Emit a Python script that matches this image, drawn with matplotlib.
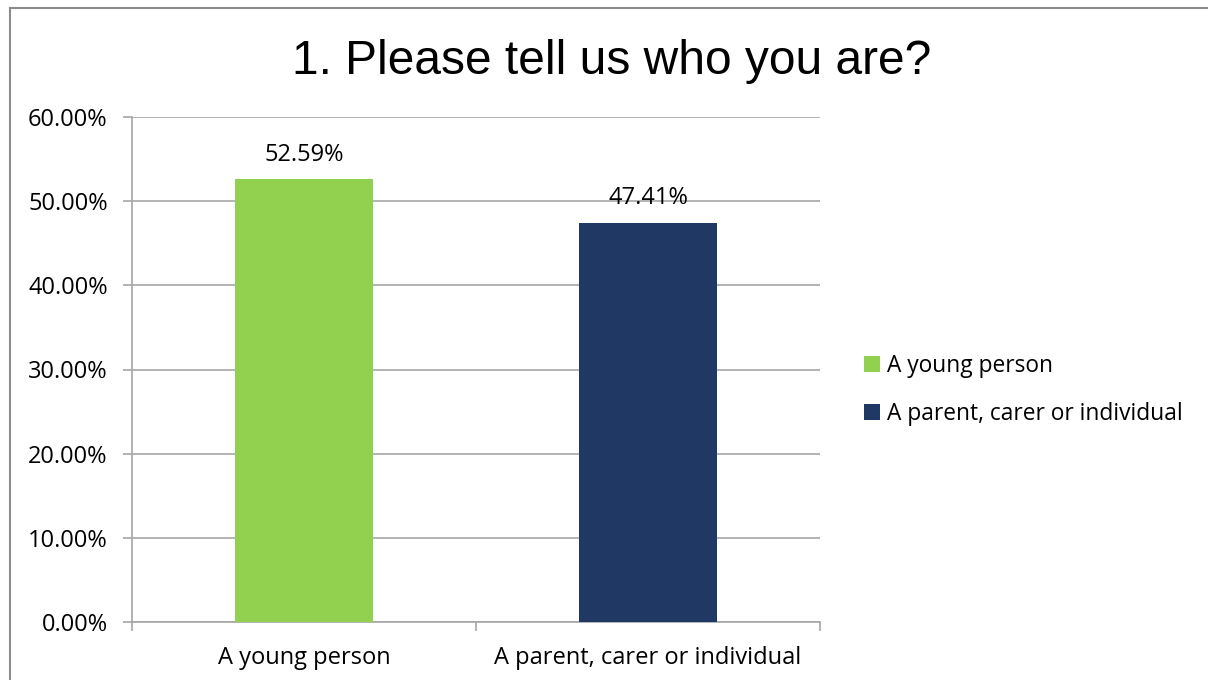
import matplotlib.pyplot as plt
from matplotlib.lines import Line2D
from matplotlib.patches import Patch

categories = ['A young person', 'A parent, carer or individual']
shares = [52.59, 47.41]
colors = ['#92d050', '#1f3864']
yticks = [0, 10, 20, 30, 40, 50, 60]

plt.rcParams['font.family'] = ['Open Sans', 'DejaVu Sans']

fig = plt.figure(figsize=(12.08, 6.8), dpi=100)
ax = fig.add_axes([132 / 1208, 1 - 622 / 680, 688 / 1208, 505 / 680])

x = range(len(categories))
ax.bar(x, shares, width=0.4, color=colors, zorder=3)
for xi, v in zip(x, shares):
    ax.annotate('%.2f%%' % v, (xi, v), xytext=(0, 9), textcoords='offset points',
                ha='center', va='bottom', fontsize=17, color='black')

ax.set_xlim(-0.5, 1.5)
ax.set_ylim(0, 60)
ax.set_yticks(yticks)
ax.set_yticklabels(['%.2f%%' % t for t in yticks])
ax.set_xticks(list(x))
ax.set_xticklabels(categories)
ax.set_xticks([-0.5, 0.5, 1.5], minor=True)

grid_c = '#a6a6a6'
ax.yaxis.grid(True, color=grid_c, linewidth=1.2, zorder=0)
for side in ['top', 'right']:
    ax.spines[side].set_visible(False)
for side in ['left', 'bottom']:
    ax.spines[side].set_color(grid_c)
    ax.spines[side].set_linewidth(1.2)

ax.tick_params(axis='y', length=6.5, width=1.2, color=grid_c, labelsize=17, pad=11, labelcolor='black')
ax.tick_params(axis='x', which='major', length=0, labelsize=17, pad=17, labelcolor='black')
ax.tick_params(axis='x', which='minor', length=6.5, width=1.2, color=grid_c)

fig.text(612 / 1208, 1 - 61 / 680, '1. Please tell us who you are?', ha='center', va='center',
         fontsize=34.5, family=['Liberation Sans', 'DejaVu Sans'])

handles = [Patch(facecolor=c, edgecolor='none') for c in colors]
fig.legend(handles, categories, loc='center left', bbox_to_anchor=(843 / 1208, 1 - 390 / 680),
           frameon=False, fontsize=16.4, handlelength=0.72, handleheight=0.72,
           handletextpad=0.3, labelspacing=1.05, labelcolor='black')

# chart area border
fig.add_artist(Line2D([10 / 1208, 1], [1 - 8 / 680, 1 - 8 / 680], color='#8c8c8c', linewidth=1.5))
fig.add_artist(Line2D([10 / 1208, 10 / 1208], [0, 1 - 8 / 680], color='#8c8c8c', linewidth=1.5))

fig.savefig('out.png', dpi=100)
